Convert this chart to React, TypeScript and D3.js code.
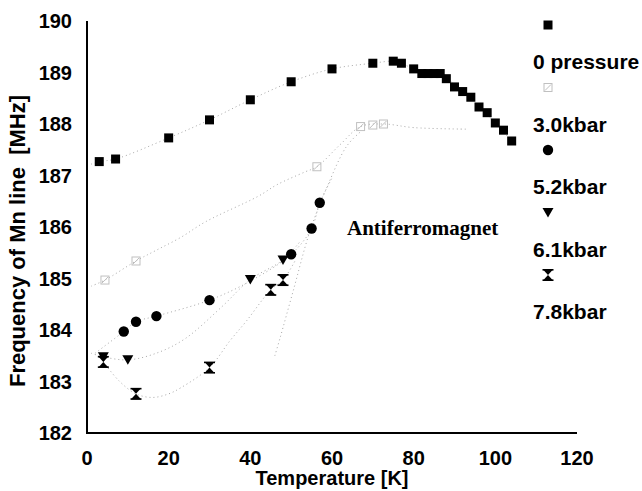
import React from "react";
import * as d3 from "d3";

// ---- data ----
const T0 = [3, 7, 20, 30, 40, 50, 60, 70, 75, 77, 80, 82, 83.5, 85, 86.5, 88, 90, 92, 94, 96, 98, 100, 102, 104];
const F0 = [187.27, 187.32, 187.73, 188.08, 188.47, 188.82, 189.07, 189.18, 189.22, 189.18, 189.07, 188.98, 188.98, 188.98, 188.98, 188.88, 188.72, 188.63, 188.52, 188.33, 188.22, 188.02, 187.88, 187.67];

const T30 = [4.4, 12, 56.3, 67, 70, 72.6];
const F30 = [184.97, 185.34, 187.17, 187.95, 187.98, 188.0];

const T52 = [9, 12, 17, 30, 50, 55, 57];
const F52 = [183.97, 184.16, 184.27, 184.58, 185.47, 185.97, 186.47];

const T61 = [4, 10, 40, 48];
const F61 = [183.48, 183.42, 184.98, 185.36];

const T78 = [4, 12, 30, 45, 48];
const F78 = [183.38, 182.76, 183.27, 184.78, 184.97];

// dotted guide / trend curves
const C0T = [1, 3, 7, 20, 30, 40, 50, 60, 70, 75, 77, 80, 84, 88, 92, 96, 100, 104];
const C0F = [187.22, 187.27, 187.32, 187.73, 188.08, 188.47, 188.82, 189.07, 189.18, 189.22, 189.18, 189.07, 188.98, 188.88, 188.63, 188.33, 188.02, 187.67];
const C30T = [1, 4.4, 12, 17, 23, 29, 42, 46.5, 53.4, 56.3, 62, 67, 72.6, 80, 93];
const C30F = [184.85, 184.97, 185.34, 185.55, 185.8, 186.1, 186.6, 186.82, 187.07, 187.17, 187.6, 187.95, 188.0, 187.93, 187.9];
const C52T = [2, 9, 12, 17, 30, 40, 50, 55, 57, 60];
const C52F = [183.55, 183.97, 184.16, 184.27, 184.58, 184.95, 185.47, 185.97, 186.47, 186.95];
const C61T = [1, 4, 10, 17, 24, 33, 40, 48, 52];
const C61F = [183.55, 183.48, 183.42, 183.55, 183.83, 184.45, 184.98, 185.36, 185.7];
const C78T = [4, 8, 12, 16, 20, 23, 30, 35, 39, 45, 48, 51];
const C78F = [183.38, 183.0, 182.76, 182.69, 182.76, 182.88, 183.27, 183.79, 184.17, 184.78, 184.97, 185.35];
const CBT = [46, 47.3, 50.5, 54.6, 58.7, 63.6, 67];
const CBF = [183.5, 183.85, 184.76, 185.92, 186.76, 187.57, 187.85];

const xTicks = [0, 20, 40, 60, 80, 100, 120];
const yTicks = [182, 183, 184, 185, 186, 187, 188, 189, 190];
const legendLabels = ["0 pressure", "3.0kbar", "5.2kbar", "6.1kbar", "7.8kbar"];

const SANS = "'Liberation Sans', Arial, sans-serif";
const SERIF = "'Liberation Serif', 'Times New Roman', serif";

type Kind = "square" | "open" | "circle" | "tri" | "bow";

function Marker({ kind, x, y }: { kind: Kind; x: number; y: number }) {
  if (kind === "square") return <rect x={x - 4.5} y={y - 4.5} width={9} height={9} fill="#000" />;
  if (kind === "open")
    return (
      <g stroke="#c0c0c0" strokeWidth={1} fill="none">
        <rect x={x - 4} y={y - 4} width={8} height={8} />
        <path d={`M${x - 3},${y + 3}L${x + 3},${y - 3}`} />
      </g>
    );
  if (kind === "circle") return <circle cx={x} cy={y} r={5.2} fill="#000" />;
  if (kind === "tri") return <path d={`M${x - 5.5},${y - 4.5}L${x + 5.5},${y - 4.5}L${x},${y + 5}Z`} fill="#000" />;
  return (
    <g fill="#000">
      <path d={`M${x - 5},${y - 5.5}L${x + 5},${y - 5.5}L${x},${y}Z`} />
      <path d={`M${x - 5},${y + 5.5}L${x + 5},${y + 5.5}L${x},${y}Z`} />
      <rect x={x - 5.5} y={y - 6} width={11} height={1.6} />
      <rect x={x - 5.5} y={y + 4.4} width={11} height={1.6} />
    </g>
  );
}

export default function App() {
  const W = 642, H = 491;
  const x = d3.scaleLinear().domain([0, 120]).range([87, 577]);
  const y = d3.scaleLinear().domain([182, 190]).range([433, 21]);

  const line = d3
    .line<[number, number]>()
    .x((d) => x(d[0]))
    .y((d) => y(d[1]))
    .curve(d3.curveCatmullRom.alpha(0.5));

  const zip = (a: number[], b: number[]) => a.map((v, i) => [v, b[i]] as [number, number]);

  const curves = [
    zip(C0T, C0F),
    zip(C30T, C30F),
    zip(C52T, C52F),
    zip(C61T, C61F),
    zip(C78T, C78F),
    zip(CBT, CBF),
  ];

  const series: { kind: Kind; t: number[]; f: number[] }[] = [
    { kind: "square", t: T0, f: F0 },
    { kind: "open", t: T30, f: F30 },
    { kind: "circle", t: T52, f: F52 },
    { kind: "tri", t: T61, f: F61 },
    { kind: "bow", t: T78, f: F78 },
  ];

  return (
    <svg width={W} height={H} style={{ position: "absolute", left: 0, top: 0, background: "#fff" }}>
      <rect x={0} y={0} width={W} height={H} fill="#fff" />
      {/* dotted curves */}
      {curves.map((c, i) => (
        <path key={i} d={line(c) || ""} fill="none" stroke="#a8a8a8" strokeWidth={1} strokeDasharray="1,3" />
      ))}
      {/* axes */}
      <line x1={x(0)} x2={x(0)} y1={y(190)} y2={y(182) + 1} stroke="#000" strokeWidth={2} />
      <line x1={x(0) - 1} x2={x(120)} y1={y(182)} y2={y(182)} stroke="#000" strokeWidth={2} />
      {yTicks.map((t) => (
        <text key={t} x={72} y={y(t)} dy="0.36em" textAnchor="end" fontFamily={SANS} fontWeight="bold" fontSize={20}>
          {t}
        </text>
      ))}
      {xTicks.map((t) => (
        <text key={t} x={x(t)} y={465} textAnchor="middle" fontFamily={SANS} fontWeight="bold" fontSize={20}>
          {t}
        </text>
      ))}
      <text x={332} y={485} textAnchor="middle" fontFamily={SANS} fontWeight="bold" fontSize={20}>
        Temperature [K]
      </text>
      <text
        transform={`translate(25,241) rotate(-90)`}
        textAnchor="middle"
        fontFamily={SANS}
        fontWeight="bold"
        fontSize={22}
        style={{ whiteSpace: "pre" }}
      >
        {"Frequency of Mn line  [MHz]"}
      </text>
      {/* markers */}
      {series.map((s, si) =>
        s.t.map((t, i) => <Marker key={`${si}-${i}`} kind={s.kind} x={x(t)} y={y(s.f[i])} />)
      )}
      {/* annotation */}
      <text x={347} y={235} fontFamily={SERIF} fontWeight="bold" fontSize={21}>
        Antiferromagnet
      </text>
      {/* legend */}
      {series.map((s, i) => (
        <g key={i}>
          <Marker kind={s.kind} x={548} y={25 + i * 62.5} />
          <text x={533} y={69 + i * 62.5} fontFamily={SANS} fontWeight="bold" fontSize={21}>
            {legendLabels[i]}
          </text>
        </g>
      ))}
    </svg>
  );
}
